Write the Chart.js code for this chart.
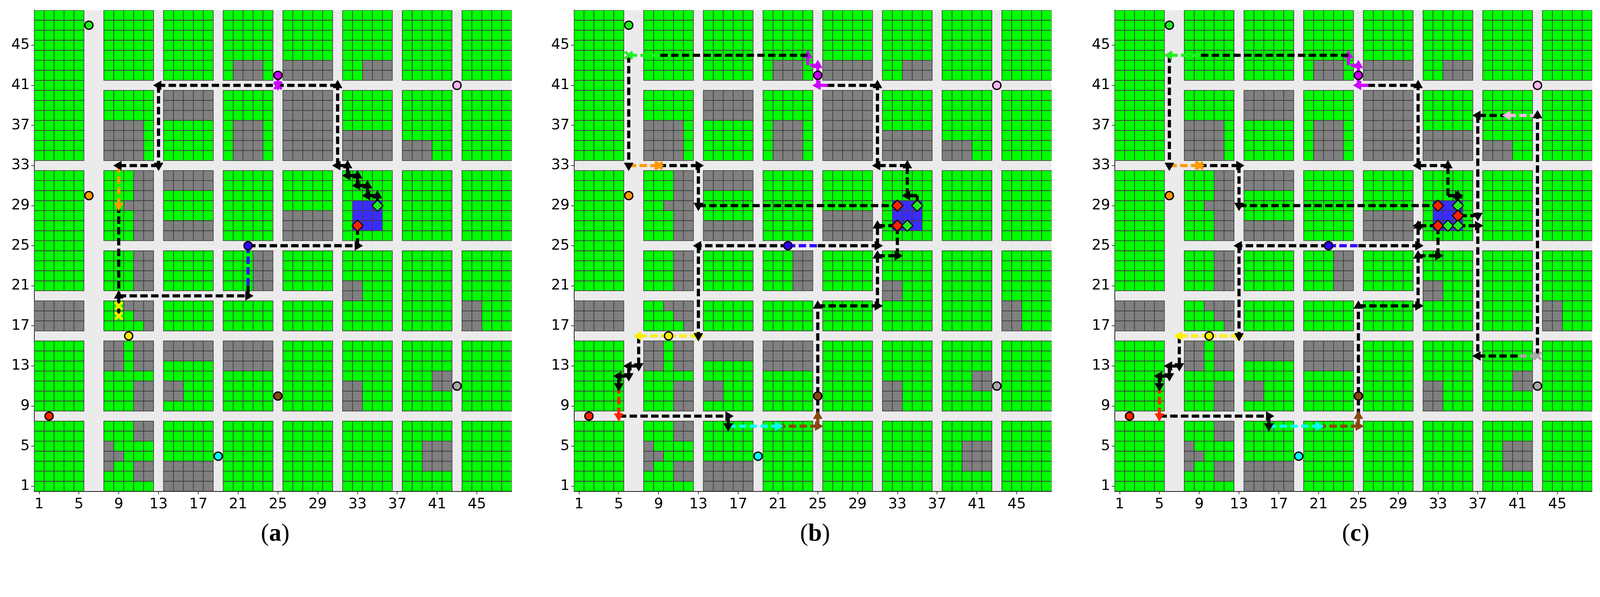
<!DOCTYPE html>
<html>
<head>
<meta charset="utf-8">
<script src="https://cdn.jsdelivr.net/npm/chart.js@4"></script>
<style>
  html, body { margin: 0; background: #fff; overflow: hidden; }
  canvas { position: absolute; top: 0; }
  .cap { position: absolute; font-family: "Liberation Serif", serif; text-align: center; color: #000; }
</style>
</head>
<body>
<script>
// grid size and tick labels
const GRID_SIZE = 48;
const TICKS = [1, 5, 9, 13, 17, 21, 25, 29, 33, 37, 41, 45];
const PANEL_LABELS = ["a", "b", "c"];

// road columns (full height) and road rows [row, fromX, toX]
const ROAD_COLS = [6, 7, 13, 19, 25, 31, 37, 43];
const ROAD_ROWS = [[8, 1, 48], [16, 1, 48], [20, 1, 31], [25, 6, 48], [33, 1, 48], [41, 6, 48]];

// obstacle (gray) cells as [x1, x2, y1, y2]
const GRAY = [
  [21, 23, 42, 43], [26, 30, 42, 43], [34, 36, 42, 43],
  [8, 11, 34, 37], [14, 18, 38, 40], [21, 23, 34, 37], [26, 30, 34, 40], [32, 36, 34, 36], [38, 40, 34, 35],
  [11, 12, 26, 32], [10, 10, 29, 29], [14, 18, 31, 32], [14, 18, 26, 27], [26, 30, 26, 28],
  [11, 12, 21, 24], [23, 24, 21, 24], [32, 33, 20, 21], [44, 45, 17, 19],
  [1, 5, 17, 19], [10, 12, 19, 19], [11, 12, 18, 18], [12, 12, 17, 17],
  [8, 9, 13, 15], [11, 12, 13, 15], [11, 12, 9, 11], [14, 18, 14, 15], [14, 15, 10, 11], [20, 24, 13, 15],
  [32, 33, 9, 11], [41, 42, 11, 12],
  [11, 12, 6, 7], [8, 8, 5, 5], [8, 9, 4, 4], [8, 8, 3, 3], [11, 12, 2, 3], [14, 18, 1, 3], [40, 42, 3, 5]
];
// target area (blue)
const TARGET_AREA = [33, 35, 27, 29];

const C = {
  k: "#000000", orange: "#ff9900", yellow: "#ffee00", blue: "#3300ff", magenta: "#cc00ff",
  cyan: "#00ffff", brown: "#8b4513", red: "#ff2200", green: "#22ee22", gray: "#a8a8a8", pink: "#ffb3f0"
};

// agents (circles): [x, y, color]
const AGENTS = [
  [6, 47, "green"], [25, 42, "magenta"], [43, 41, "pink"], [6, 30, "orange"], [10, 16, "yellow"],
  [2, 8, "red"], [25, 10, "brown"], [19, 4, "cyan"], [43, 11, "gray"], [22, 25, "blue"]
];

// targets (diamonds)
const TARGETS_A = [[33, 27, "red"], [35, 29, "green"]];
const TARGETS_B = [[33, 29, "red"], [35, 29, "green"], [33, 27, "red"], [34, 27, "green"]];
const TARGETS_C = [[33, 29, "red"], [35, 29, "green"], [35, 28, "red"], [33, 27, "red"], [34, 27, "green"], [35, 27, "green"]];

// crosses
const CROSS_A = [[9, 18, "yellow"], [9, 19, "yellow"], [25, 41, "magenta"]];
const CROSS_B = [[6, 44, "green"], [9, 33, "orange"]];
const CROSS_C = [[9, 33, "orange"], [43, 14, "gray"]];

// path segments: [x1, y1, x2, y2, color, head]
const SEG_A = [
  [35, 29, 35, 30, "k", 1], [35, 30, 34, 30, "k", 1], [34, 30, 34, 31, "k", 1], [34, 31, 33, 31, "k", 1],
  [33, 31, 33, 32, "k", 1], [33, 32, 32, 32, "k", 1], [32, 32, 32, 33, "k", 1], [32, 33, 31, 33, "k", 1],
  [31, 33, 31, 41, "k", 1], [31, 41, 13, 41, "k", 1], [13, 41, 13, 33, "k", 1], [13, 33, 9, 33, "k", 1],
  [9, 33, 9, 29, "orange", 1], [9, 29, 9, 20.3, "k", 0], [9, 18, 9, 20, "k", 1],
  [9, 20, 22, 20, "k", 1], [22, 25, 22, 21, "blue", 0], [22, 21, 22, 20, "k", 0],
  [22, 25, 33, 25, "k", 1], [33, 25, 33, 27, "k", 1], [25, 42, 25, 41, "magenta", 1]
];
const SEG_B = [
  [9, 44, 6, 44, "green", 0], [24, 44, 9, 44, "k", 0],
  [24, 43, 24, 44, "magenta", 1], [25, 43, 24, 43, "magenta", 0], [25, 42, 25, 43, "magenta", 1],
  [25, 41, 25, 42, "magenta", 0], [26, 41, 25, 41, "magenta", 1], [31, 41, 26, 41, "k", 0],
  [31, 33, 31, 41, "k", 1], [34, 33, 31, 33, "k", 1], [34, 30, 34, 33, "k", 1], [35, 30, 34, 30, "k", 1],
  [35, 30, 35, 29, "k", 1],
  [6, 44, 6, 33, "k", 1], [6, 33, 9, 33, "orange", 1], [9, 33, 13, 33, "k", 1], [13, 33, 13, 29, "k", 1],
  [13, 29, 33, 29, "k", 1],
  [22, 25, 25, 25, "blue", 0], [25, 25, 31, 25, "k", 1], [31, 25, 31, 27, "k", 1], [31, 27, 33, 27, "k", 1],
  [22, 25, 13, 25, "k", 1], [13, 25, 13, 16, "k", 1],
  [10, 16, 13, 16, "yellow", 1], [10, 16, 7, 16, "yellow", 1],
  [7, 16, 7, 13, "k", 1], [7, 13, 6, 13, "k", 1], [6, 13, 6, 12, "k", 1], [6, 12, 5, 12, "k", 1], [5, 12, 5, 11, "k", 1],
  [5, 11, 5, 8, "red", 1], [5, 8, 16, 8, "k", 1], [16, 8, 16, 7, "k", 1], [16, 7, 21, 7, "cyan", 1],
  [21, 7, 25, 7, "brown", 1], [25, 7, 25, 8, "brown", 1], [25, 8, 25, 19, "k", 1], [25, 19, 31, 19, "k", 1],
  [31, 19, 31, 24, "k", 1], [31, 24, 33, 24, "k", 1], [33, 24, 33, 27, "k", 1]
];
const SEG_C = [
  [9, 44, 6, 44, "green", 1], [24, 44, 9, 44, "k", 0],
  [24, 43, 24, 44, "magenta", 1], [25, 43, 24, 43, "magenta", 0], [25, 42, 25, 43, "magenta", 1],
  [25, 41, 25, 42, "magenta", 0], [26, 41, 25, 41, "magenta", 1], [31, 41, 26, 41, "k", 0],
  [31, 33, 31, 41, "k", 1], [34, 33, 31, 33, "k", 1], [34, 30, 34, 33, "k", 1], [34, 30, 35, 30, "k", 1],
  [35, 29, 35, 30, "k", 1],
  [6, 44, 6, 33, "k", 1], [6, 33, 9, 33, "orange", 1], [9, 33, 13, 33, "k", 1], [13, 33, 13, 29, "k", 1],
  [13, 29, 33, 29, "k", 1],
  [22, 25, 25, 25, "blue", 0], [25, 25, 31, 25, "k", 1], [31, 25, 31, 27, "k", 1], [34, 27, 31, 27, "k", 1],
  [22, 25, 13, 25, "k", 1], [13, 25, 13, 16, "k", 1],
  [10, 16, 13, 16, "yellow", 1], [10, 16, 7, 16, "yellow", 1],
  [7, 16, 7, 13, "k", 1], [7, 13, 6, 13, "k", 1], [6, 13, 6, 12, "k", 1], [6, 12, 5, 12, "k", 1], [5, 12, 5, 11, "k", 1],
  [5, 11, 5, 8, "red", 1], [5, 8, 16, 8, "k", 1], [16, 8, 16, 7, "k", 1], [16, 7, 21, 7, "cyan", 1],
  [21, 7, 25, 7, "brown", 1], [25, 7, 25, 8, "brown", 1], [25, 8, 25, 19, "k", 1], [25, 19, 31, 19, "k", 1],
  [31, 19, 31, 24, "k", 1], [31, 24, 33, 24, "k", 1], [33, 24, 33, 27, "k", 1],
  [43, 14, 41, 14, "gray", 0], [41, 14, 37, 14, "k", 1], [43, 14, 43, 38, "k", 1],
  [43, 38, 40, 38, "pink", 1], [40, 38, 37, 38, "k", 1], [37, 38, 37, 28, "k", 1], [37, 28, 35, 28, "k", 1],
  [35, 27, 37, 27, "k", 1], [37, 27, 37, 14, "k", 0]
];

// the page is laid out for 4307 px; scale to the real viewport
const S = window.innerWidth / 4307;
const PANEL_LEFT = [0, 1453, 2908];

function isRoad(x, y) {
  if (ROAD_COLS.includes(x)) return true;
  return ROAD_ROWS.some(([r, a, b]) => r === y && x >= a && x <= b);
}
function inRange(x, y, [x1, x2, y1, y2]) {
  return x >= x1 && x <= x2 && y >= y1 && y <= y2;
}

const greenCells = [], grayCells = [], blueCells = [];
for (let x = 1; x <= GRID_SIZE; x++) {
  for (let y = 1; y <= GRID_SIZE; y++) {
    if (isRoad(x, y)) continue;
    if (inRange(x, y, TARGET_AREA)) blueCells.push({ x, y });
    else if (GRAY.some(g => inRange(x, y, g))) grayCells.push({ x, y });
    else greenCells.push({ x, y });
  }
}

// half-diagonal so that a 'rect' point covers one cell
function cellRadius(ctx) {
  const s = ctx.chart.scales.x;
  return Math.abs(s.getPixelForValue(1) - s.getPixelForValue(0)) / Math.SQRT2;
}

function cellSet(data, color) {
  return {
    data, pointStyle: "rect", pointRadius: cellRadius, pointHoverRadius: cellRadius,
    backgroundColor: color, borderColor: "#404040", borderWidth: 1.8 * S, order: 20
  };
}

const bgPlugin = {
  id: "roadBg",
  beforeDraw(chart) {
    const { ctx, chartArea: a } = chart;
    ctx.save();
    ctx.fillStyle = "#ffffff";
    ctx.fillRect(0, 0, chart.width, chart.height);
    ctx.fillStyle = "#ebebeb";
    ctx.fillRect(a.left, a.top, a.right - a.left, a.bottom - a.top);
    ctx.restore();
  }
};

function makeChart(i, segs, targets, crosses) {
  const cv = document.createElement("canvas");
  cv.width = Math.round(1399 * S);
  cv.height = Math.round(1392 * S);
  cv.style.left = Math.round(PANEL_LEFT[i] * S) + "px";
  document.body.appendChild(cv);

  const cap = document.createElement("div");
  cap.className = "cap";
  cap.style.left = Math.round((PANEL_LEFT[i] + 92 + 649 - 150) * S) + "px";
  cap.style.width = Math.round(300 * S) + "px";
  cap.style.top = Math.round(1395 * S) + "px";
  cap.style.fontSize = Math.round(66 * S) + "px";
  cap.innerHTML = "(<b>" + PANEL_LABELS[i] + "</b>)";
  document.body.appendChild(cap);

  const datasets = [
    cellSet(greenCells, "#00ff00"),
    cellSet(grayCells, "#808080"),
    cellSet(blueCells, "#3a2cff")
  ];
  segs.forEach(([x1, y1, x2, y2, col, head]) => {
    const ang = Math.atan2(x2 - x1, y2 - y1) * 180 / Math.PI;
    const c = C[col];
    datasets.push({
      type: "line", data: [{ x: x1, y: y1 }, { x: x2, y: y2 }], showLine: true,
      borderColor: c, borderWidth: 8.5 * S, borderDash: [20 * S, 9 * S],
      pointStyle: "triangle", pointRadius: [0, head ? 14 * S : 0], pointRotation: [0, ang],
      pointBackgroundColor: c, pointBorderColor: c, pointBorderWidth: 1, order: 5
    });
  });
  datasets.push({
    data: crosses.map(([x, y]) => ({ x, y })), pointStyle: "crossRot", pointRadius: 14 * S,
    borderColor: crosses.map(([, , c]) => C[c]), borderWidth: 7 * S, order: 3
  });
  datasets.push({
    data: AGENTS.map(([x, y]) => ({ x, y })), pointStyle: "circle", pointRadius: 11 * S,
    backgroundColor: AGENTS.map(([, , c]) => C[c]), borderColor: "#000", borderWidth: 3.5 * S, order: 2
  });
  datasets.push({
    data: targets.map(([x, y]) => ({ x, y })), pointStyle: "rectRot", pointRadius: 15 * S,
    backgroundColor: targets.map(([, , c]) => C[c]), borderColor: "#000", borderWidth: 2.5 * S, order: 1
  });

  const axis = (fit) => ({
    type: "linear", min: 0.5, max: GRID_SIZE + 0.5,
    afterBuildTicks: (ax) => { ax.ticks = TICKS.map(v => ({ value: v })); },
    afterFit: fit,
    ticks: { color: "#000", font: { family: "DejaVu Sans", size: 39 * S }, padding: 4 * S },
    grid: { drawOnChartArea: false, tickLength: 8 * S, color: "#000", lineWidth: 1.5 * S },
    border: { display: true, color: "#000", width: 1.8 * S }
  });

  new Chart(cv, {
    type: "scatter",
    data: { datasets },
    options: {
      responsive: false, animation: false, devicePixelRatio: 1,
      layout: { padding: { top: 26 * S, right: 9 * S, left: 0, bottom: 0 } },
      plugins: { legend: { display: false }, tooltip: { enabled: false } },
      scales: {
        x: axis((ax) => { ax.height = 70 * S; }),
        y: axis((ax) => { ax.width = 92 * S; })
      }
    },
    plugins: [bgPlugin]
  });
}

makeChart(0, SEG_A, TARGETS_A, CROSS_A);
makeChart(1, SEG_B, TARGETS_B, CROSS_B);
makeChart(2, SEG_C, TARGETS_C, CROSS_C);
</script>
</body>
</html>
